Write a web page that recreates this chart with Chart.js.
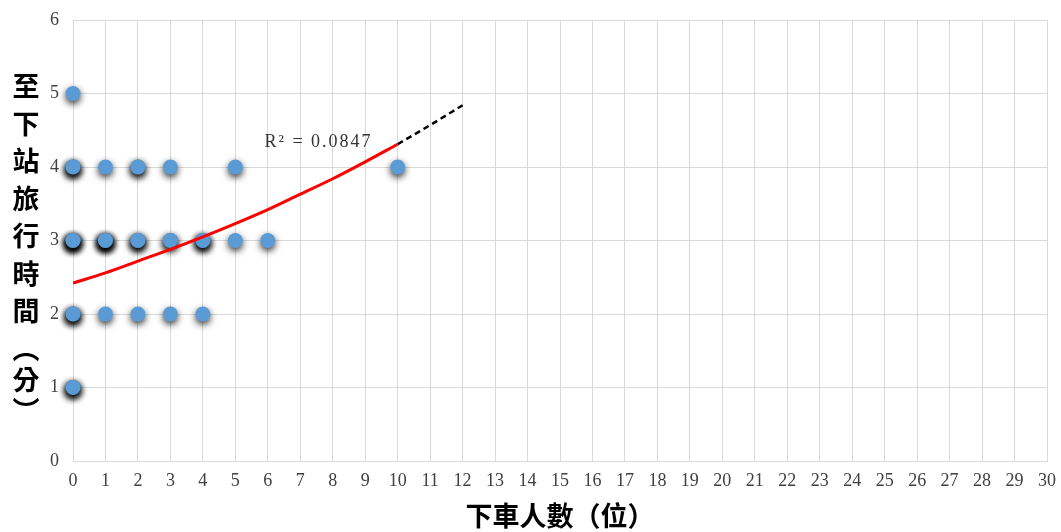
<!DOCTYPE html>
<html>
<head>
<meta charset="utf-8">
<script src="https://cdn.jsdelivr.net/npm/chart.js@4.4.1/dist/chart.umd.min.js"></script>
<style>
  html, body { margin: 0; padding: 0; background: #ffffff; }
  #wrap { width: 1061px; height: 532px; }
</style>
</head>
<body>
<div id="wrap"><canvas id="c" width="1061" height="532"></canvas></div>
<script>
// Observations: passengers alighting (x) vs. travel time to next stop (y, minutes)
const alightCount = [
  0,
  0, 0, 0, 1, 2, 2, 3, 5, 10,
  0, 0, 0, 0, 0, 1, 1, 1, 1, 1, 2, 2, 2, 3, 3, 4, 4, 4, 5, 6,
  0, 0, 0, 1, 2, 3, 4,
  0, 0, 0
];
const travelMinutes = [
  5,
  4, 4, 4, 4, 4, 4, 4, 4, 4,
  3, 3, 3, 3, 3, 3, 3, 3, 3, 3, 3, 3, 3, 3, 3, 3, 3, 3, 3, 3,
  2, 2, 2, 2, 2, 2, 2,
  1, 1, 1
];

// Exponential trend line (fitted range) and its forward projection
const trendX = [0, 1, 2, 3, 4, 5, 6, 7, 8, 9, 10];
const trendY = [2.42, 2.56, 2.72, 2.88, 3.05, 3.23, 3.42, 3.63, 3.84, 4.07, 4.31];
const forecastX = [10, 11, 12];
const forecastY = [4.31, 4.57, 4.84];
const rSquaredText = 'R² = 0.0847';

const xTickLabels = Array.from({ length: 31 }, (_, i) => String(i));
const yTickLabels = ['0', '1', '2', '3', '4', '5', '6'];
const xTitle = '下車人數（位）';
const yTitleChars = ['至', '下', '站', '旅', '行', '時', '間', '︵', '分', '︶'];

const gridColor = '#d9d9d9';
const tickFont = { family: '"Liberation Serif", "DejaVu Serif", serif', size: 18 };
const titleFamily = '"Noto Sans CJK TC", "Noto Sans CJK SC", sans-serif';

const toXY = (xs, ys) => xs.map((x, i) => ({ x: x, y: ys[i] }));

// Soft drop shadow behind the scatter markers
const markerShadow = {
  id: 'markerShadow',
  beforeDatasetDraw(chart, args) {
    if (chart.data.datasets[args.index].label !== 'obs') return;
    const ctx = chart.ctx;
    ctx.save();
    ctx.shadowColor = 'rgba(0,0,0,0.8)';
    ctx.shadowBlur = 7;
    ctx.shadowOffsetX = 0;
    ctx.shadowOffsetY = 3;
  },
  afterDatasetDraw(chart, args) {
    if (chart.data.datasets[args.index].label !== 'obs') return;
    chart.ctx.restore();
  }
};

// Vertical y-axis title and the R² annotation
const annotations = {
  id: 'annotations',
  afterDraw(chart) {
    const ctx = chart.ctx;
    const xs = chart.scales.x, ys = chart.scales.y;
    ctx.save();
    ctx.fillStyle = '#000000';
    ctx.textAlign = 'center';
    ctx.textBaseline = 'middle';
    ctx.font = 'bold 27px ' + titleFamily;
    let y = 86;
    yTitleChars.forEach((ch, i) => {
      ctx.fillText(ch, 26, y);
      const next = yTitleChars[i + 1];
      y += (ch === '︵' || next === '︶') ? 31 : 37.5;
    });

    ctx.font = '18px "Liberation Serif", "DejaVu Serif", serif';
    ctx.fillStyle = '#333333';
    ctx.textAlign = 'left';
    ctx.letterSpacing = '2px';
    ctx.fillText(rSquaredText, xs.getPixelForValue(5.9), ys.getPixelForValue(4.33));
    ctx.restore();
  }
};

new Chart(document.getElementById('c'), {
  type: 'scatter',
  data: {
    datasets: [
      {
        label: 'trend',
        type: 'line',
        data: toXY(trendX, trendY),
        borderColor: '#ff0000',
        borderWidth: 3,
        pointRadius: 0,
        cubicInterpolationMode: 'monotone',
        fill: false
      },
      {
        label: 'forecast',
        type: 'line',
        data: toXY(forecastX, forecastY),
        borderColor: '#000000',
        borderWidth: 2.5,
        borderDash: [6, 4],
        pointRadius: 0,
        cubicInterpolationMode: 'monotone',
        fill: false
      },
      {
        label: 'obs',
        data: toXY(alightCount, travelMinutes),
        backgroundColor: '#5b9bd5',
        borderWidth: 0,
        pointRadius: 7.5,
        pointHoverRadius: 7.5,
        clip: false
      }
    ]
  },
  options: {
    responsive: false,
    animation: false,
    events: [],
    layout: { padding: { top: 20, right: 14, bottom: 0, left: 0 } },
    plugins: { legend: { display: false }, tooltip: { enabled: false } },
    scales: {
      x: {
        type: 'linear',
        min: 0, max: 30,
        afterBuildTicks(s) { s.ticks = xTickLabels.map(v => ({ value: Number(v) })); },
        afterFit(s) { s.height = 71; s.paddingLeft = 0; s.paddingRight = 0; },
        grid: { color: gridColor, drawTicks: false },
        border: { color: gridColor },
        ticks: { font: tickFont, color: '#404040', padding: 9, maxRotation: 0, autoSkip: false,
                 callback: (v, i) => xTickLabels[i] },
        title: { display: true, text: xTitle, color: '#000000',
                 font: { family: titleFamily, size: 27, weight: 'bold' }, padding: { top: 6, bottom: 0 } }
      },
      y: {
        type: 'linear',
        min: 0, max: 6,
        afterBuildTicks(s) { s.ticks = yTickLabels.map(v => ({ value: Number(v) })); },
        afterFit(s) { s.width = 73; s.paddingTop = 0; s.paddingBottom = 0; },
        grid: { color: gridColor, drawTicks: false },
        border: { color: gridColor },
        ticks: { font: tickFont, color: '#404040', padding: 14, autoSkip: false,
                 callback: (v, i) => yTickLabels[i] }
      }
    }
  },
  plugins: [markerShadow, annotations]
});
</script>
</body>
</html>
